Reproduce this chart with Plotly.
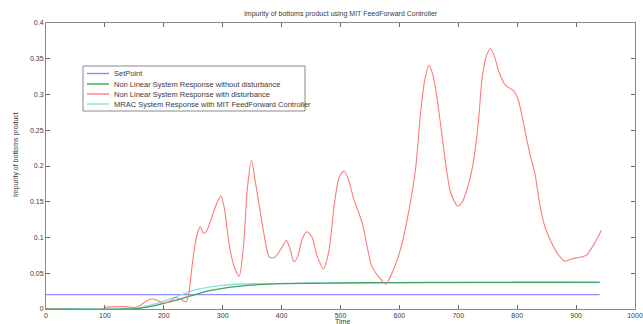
import plotly.graph_objects as go

# ---------------- data ----------------
title_text = "Impurity of bottoms product using MIT FeedForward Controller"
x_label = "Time"
y_label = "Impurity of bottoms product"
legend_labels = [
    "SetPoint",
    "Non Linear System Response without disturbance",
    "Non Linear System Response with disturbance",
    "MRAC System Response with MIT FeedForward Controller",
]

setpoint_x = [0, 940]
setpoint_y = [0.02, 0.02]

nodist_x = [0, 140, 160, 180, 200, 220, 240, 260, 280, 300, 330, 360, 400, 450, 500, 600, 700, 800, 940]
nodist_y = [0, 0, 0.001, 0.004, 0.008, 0.012, 0.017, 0.022, 0.026, 0.029, 0.032, 0.034, 0.0355,
            0.036, 0.0365, 0.037, 0.0372, 0.0374, 0.0376]

dist_x = [0, 95, 100, 110, 140, 150, 160, 170, 180, 190, 200, 210, 220, 230, 238, 243, 248, 253,
          258, 262, 267, 272, 280, 290, 297, 303, 311, 320, 328, 335, 342, 349, 355, 362, 370, 379,
          388, 396, 402, 408, 414, 421, 428, 435, 443, 452, 460, 471, 480, 490, 498, 506, 514, 522,
          537, 553, 565, 577, 590, 604, 612, 621, 628, 636, 643, 650, 656, 663, 672, 680, 687, 699,
          707, 714, 722, 729, 735, 740, 748, 755, 762, 768, 780, 794, 802, 814, 822, 830, 839, 847,
          856, 868, 881, 892, 904, 917, 930, 943]
dist_y = [0, 0, 0.002, 0.003, 0.003, 0.002, 0.005, 0.011, 0.014, 0.012, 0.008, 0.011, 0.016, 0.013,
          0.01, 0.025, 0.06, 0.09, 0.108, 0.115, 0.106, 0.108, 0.125, 0.148, 0.158, 0.14, 0.09,
          0.058, 0.046, 0.085, 0.17, 0.208, 0.18, 0.145, 0.105, 0.073, 0.072, 0.08, 0.088, 0.096,
          0.085, 0.066, 0.075, 0.098, 0.108, 0.1, 0.075, 0.056, 0.08, 0.15, 0.185, 0.193, 0.18,
          0.155, 0.12, 0.06, 0.045, 0.035, 0.055, 0.09, 0.12, 0.16, 0.2, 0.274, 0.32, 0.341, 0.33,
          0.3, 0.245, 0.195, 0.163, 0.144, 0.15, 0.165, 0.19, 0.225, 0.27, 0.32, 0.355, 0.364,
          0.352, 0.334, 0.313, 0.305, 0.292, 0.246, 0.215, 0.19, 0.143, 0.115, 0.097, 0.078,
          0.067, 0.07, 0.072, 0.075, 0.09, 0.11]

mrac_x = [0, 140, 160, 180, 200, 220, 240, 260, 280, 300, 330, 400, 500, 600, 940]
mrac_y = [0, 0, 0.002, 0.006, 0.011, 0.017, 0.023, 0.028, 0.031, 0.033, 0.035, 0.0355, 0.036,
          0.0365, 0.037]

colors = ["#8c8cff", "#3fa35c", "#ff7b7b", "#86e3e3"]

# ---------------- layout geometry ----------------
W, H = 643, 324
L, R, T, B = 46, 635, 23, 309
pw, ph = R - L, B - T


def px(xp):
    return (xp - L) / pw


def py(yp):
    return (B - yp) / ph


FONT = "Arial, Liberation Sans, sans-serif"
TXT = "#3a3a3a"

fig = go.Figure()
fig.add_trace(go.Scatter(x=setpoint_x, y=setpoint_y, mode="lines",
                         line=dict(color=colors[0], width=1.3), name=legend_labels[0]))
fig.add_trace(go.Scatter(x=mrac_x, y=mrac_y, mode="lines",
                         line=dict(color=colors[3], width=1.3, shape="spline", smoothing=0.6),
                         name=legend_labels[3]))
fig.add_trace(go.Scatter(x=nodist_x, y=nodist_y, mode="lines",
                         line=dict(color=colors[1], width=1.3, shape="spline", smoothing=0.6),
                         name=legend_labels[1]))
fig.add_trace(go.Scatter(x=dist_x, y=dist_y, mode="lines",
                         line=dict(color=colors[2], width=1.1, shape="spline", smoothing=0.7),
                         name=legend_labels[2]))

axis_common = dict(showgrid=False, zeroline=False, showline=True, linecolor="#8a8a8a",
                   linewidth=1, mirror="ticks", ticks="inside", ticklen=4, tickcolor="#6a6a6a",
                   tickfont=dict(family=FONT, size=7, color=TXT), automargin=False,
                   ticklabeloverflow="allow")

fig.update_layout(
    width=W, height=H,
    margin=dict(l=L, r=W - R, t=T, b=H - B),
    paper_bgcolor="white", plot_bgcolor="white",
    showlegend=False,
    title=dict(text=title_text, x=(L + R) / 2 / W, xanchor="center",
               y=1 - 14 / H, yanchor="middle",
               font=dict(family=FONT, size=7, color=TXT)),
    xaxis=dict(range=[0, 1000], dtick=100, tick0=0, **axis_common),
    yaxis=dict(range=[0, 0.4], dtick=0.05, tick0=0, **axis_common),
)

annotations = [
    dict(text=x_label, xref="paper", yref="paper", x=px(342), y=py(321),
         xanchor="center", yanchor="middle", showarrow=False,
         font=dict(family=FONT, size=7, color=TXT)),
    dict(text=y_label, xref="paper", yref="paper", x=px(16), y=py(155),
         xanchor="center", yanchor="middle", textangle=-90, showarrow=False,
         font=dict(family=FONT, size=7, color=TXT)),
]

# manual compact legend (MATLAB style)
shapes = [dict(type="rect", xref="paper", yref="paper",
               x0=px(83), x1=px(305), y0=py(111), y1=py(66),
               line=dict(color="#8a8a8a", width=1), fillcolor="white", layer="above")]
rows = [73.5, 84, 94, 104]
for lab, col, ry in zip(legend_labels, colors, rows):
    shapes.append(dict(type="line", xref="paper", yref="paper",
                       x0=px(87), x1=px(109), y0=py(ry), y1=py(ry),
                       line=dict(color=col, width=1.4), layer="above"))
    annotations.append(dict(text=lab, xref="paper", yref="paper", x=px(111.5), y=py(ry),
                            xanchor="left", yanchor="middle", showarrow=False,
                            font=dict(family=FONT, size=7.5, color=TXT)))

fig.update_layout(shapes=shapes, annotations=annotations)

fig.write_html("out.html", config={"displayModeBar": False},
               post_script="document.body.style.margin='0px';document.body.style.overflow='hidden';")
